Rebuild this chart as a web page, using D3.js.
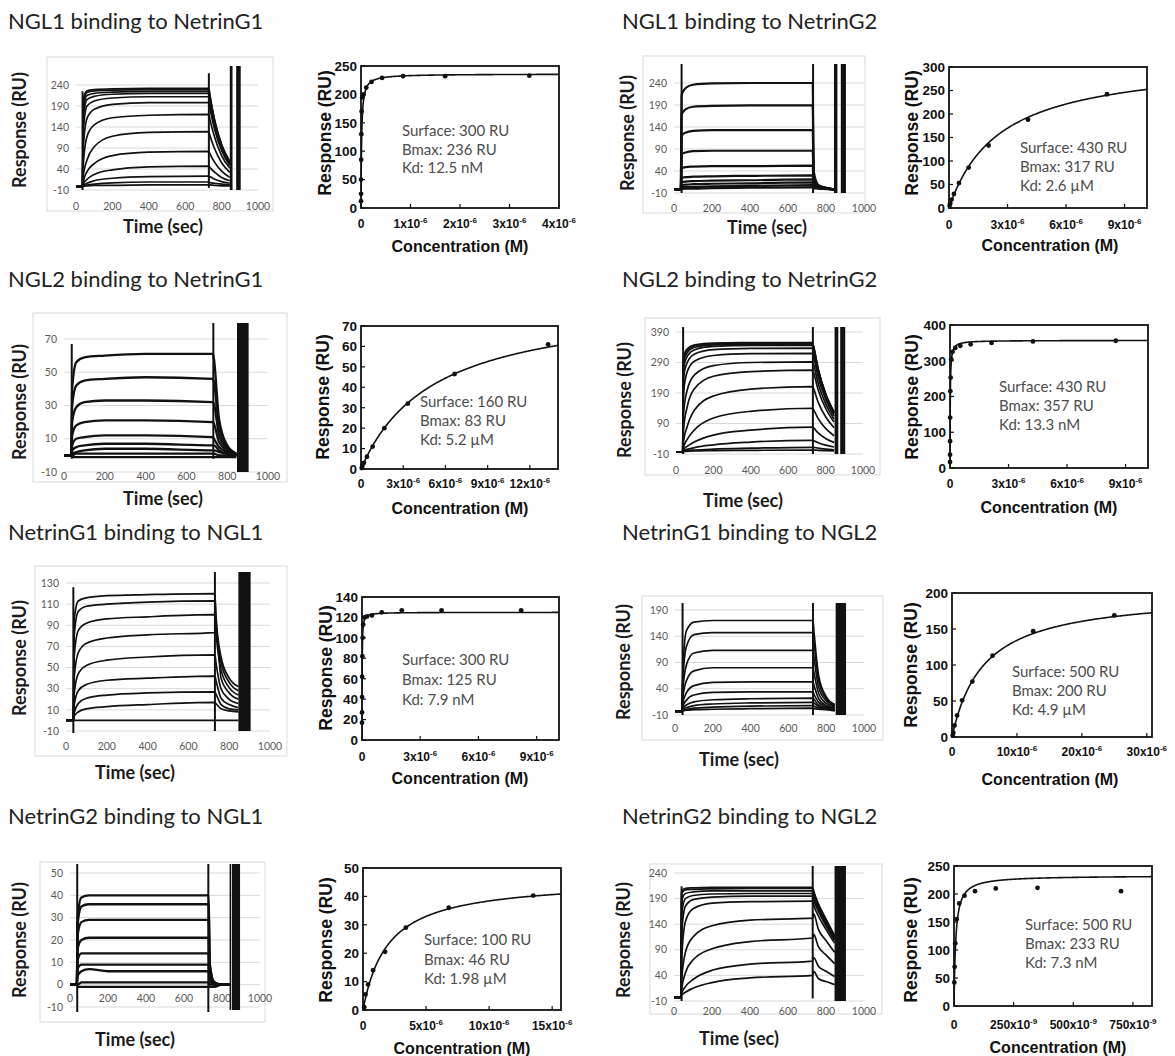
<!DOCTYPE html>
<html><head><meta charset="utf-8">
<script src="https://cdn.jsdelivr.net/npm/d3@7"></script>
<style>
html,body{margin:0;padding:0;background:#fff;}
svg{display:block;}
</style></head><body>
<svg id="fig" width="1175" height="1056"></svg>
<script>
// ---------- panel titles ----------
const panelTitles = [
  "NGL1 binding to NetrinG1", "NGL1 binding to NetrinG2",
  "NGL2 binding to NetrinG1", "NGL2 binding to NetrinG2",
  "NetrinG1 binding to NGL1", "NetrinG1 binding to NGL2",
  "NetrinG2 binding to NGL1", "NetrinG2 binding to NGL2"
];

// ---------- sensorgrams: response (RU) of each injection at these times (s) ----------
const sampleTimes = [0, 36, 40, 60, 100, 200, 400, 730, 735, 760, 800, 845];
const timeTicks = [0, 200, 400, 600, 800, 1000];

const tracesNGL1_NetrinG1 = [
  [-2,-2,205,226,229,231,232,232,218,160,98,58],
  [-2,-2,195,222,226,228,229,229,215,158,97,57],
  [-2,-2,180,215,220,223,225,225,211,155,95,55],
  [-2,-2,160,205,213,218,220,220,206,152,93,54],
  [-2,-2,130,190,202,209,212,212,199,147,90,52],
  [-2,-2,90,160,182,194,198,198,186,137,84,48],
  [-2,-2,50,117,145,162,168,170,160,118,72,42],
  [-2,-2,25,61,93,118,127,129,121,90,55,32],
  [-2,-2,10,33,53,72,80,82,77,57,35,20],
  [-2,-2,4,15,27,38,45,47,44,33,20,12],
  [-2,-2,1,6,12,18,22,23,22,16,10,6],
  [-2,-2,0,2,4,7,9,9,8,6,4,2],
  [-2,-2,-1,0,1,1,2,2,2,1,0,0]
];
const tracesNGL1_NetrinG2 = [
  [-2,-2,212,228,236,239,240,240,40,8,2,-2],
  [-2,-2,168,180,186,188,189,189,32,7,2,-2],
  [-2,-2,120,127,131,133,133,133,25,6,1,-2],
  [-2,-2,78,82,85,86,86,86,18,5,1,-2],
  [-2,-2,46,49,50,51,51,52,12,4,1,-2],
  [-2,-2,24,26,27,28,29,30,8,3,0,-2],
  [-2,-2,14,16,17,18,19,21,6,2,0,-2],
  [-2,-2,8,9,10,11,12,14,4,2,0,-2],
  [-2,-2,3,4,4,5,6,8,3,1,0,-2],
  [-3,-3,-1,0,0,1,2,3,1,0,-1,-2]
];
const tracesNGL2_NetrinG1 = [
  [0,0,40,56,59,60,61,61,58,22,6,1],
  [0,0,30,42,45,46,47,46,44,17,5,1],
  [0,0,20,29,32,33,33,32,31,12,4,1],
  [0,0,12,18,20,21,21,20,19,8,3,0],
  [0,0,6,10,11,12,12,11,10,5,2,0],
  [0,0,3,5,6,7,7,6,6,3,1,0],
  [0,0,1,2,3,4,4,3,3,2,1,0],
  [0,0,0,1,1,1,1,1,1,0,0,0],
  [0,0,-1,-1,-1,-1,-1,-1,-1,-1,-1,-1]
];
const tracesNGL2_NetrinG2 = [
  [-3,-3,305,335,348,354,355,355,345,270,188,128],
  [-3,-3,300,330,345,351,353,353,343,268,187,127],
  [-3,-3,290,322,340,348,350,350,340,266,186,126],
  [-3,-3,270,310,332,343,346,346,336,263,183,125],
  [-3,-3,240,290,318,332,336,337,327,256,179,121],
  [-3,-3,190,260,295,313,319,320,311,243,170,115],
  [-3,-3,120,200,250,280,290,292,284,222,155,105],
  [-3,-3,70,145,205,245,260,265,258,201,140,95],
  [-3,-3,30,80,135,180,203,211,205,160,112,76],
  [-3,-3,12,38,70,108,130,140,136,106,74,50],
  [-3,-3,5,15,30,52,68,78,76,59,41,28],
  [-3,-3,1,5,11,20,29,35,34,27,19,13],
  [-3,-3,-1,1,3,6,9,12,12,9,6,4],
  [-3,-3,-2,-1,0,1,2,3,3,2,1,0]
];
const tracesNetrinG1_NGL1 = [
  [0,0,95,113,116,118,119,120,100,60,40,32],
  [0,0,80,103,108,110,112,113,95,55,36,28],
  [0,0,60,85,92,96,98,100,85,48,31,24],
  [0,0,40,64,73,78,81,83,90,40,26,20],
  [0,0,25,44,52,57,60,62,55,30,20,16],
  [0,0,14,28,34,38,40,42,38,21,15,12],
  [0,0,7,16,21,24,26,27,25,15,11,10],
  [0,0,4,8,11,13,15,17,16,11,9,8],
  [0,0,0,0,0,0,0,0,0,0,0,0]
];
const tracesNetrinG1_NGL2 = [
  [-3,-3,60,150,167,170,170,170,150,65,25,10],
  [-3,-3,45,120,143,147,147,147,130,55,21,9],
  [-3,-3,30,85,108,113,113,113,100,43,17,7],
  [-3,-3,18,55,74,80,80,80,71,31,12,5],
  [-3,-3,10,32,46,52,53,53,47,21,8,3],
  [-3,-3,5,18,28,33,34,34,30,14,6,2],
  [-3,-3,2,9,15,19,21,22,20,9,4,1],
  [-3,-3,0,4,8,11,13,14,13,6,2,0],
  [-3,-3,-1,1,3,5,7,8,7,3,1,-1],
  [-3,-3,-2,-1,0,1,2,3,2,1,0,-2]
];
const tracesNetrinG2_NGL1 = [
  [0,0,30,39,40,40,40,40,10,1,0,0],
  [0,0,27,35,36,36,36,36,9,1,0,0],
  [0,0,22,28,29,29,29,29,7,1,0,0],
  [0,0,16,20,21,21,21,21,5,1,0,0],
  [0,0,11,14,14,14,14,14,4,0,0,0],
  [0,0,7,9,9,9,9,9,3,0,0,0],
  [0,0,4,6,7,6,6,6,2,0,0,0],
  [0,0,0,1,1,1,1,1,0,0,0,0],
  [0,0,-1,-1,-1,-1,-1,-1,-1,-1,0,0]
];
const tracesNetrinG2_NGL2 = [
  [-3,-3,205,210,211,212,212,212,205,180,150,118],
  [-3,-3,200,207,208,209,210,210,203,178,148,117],
  [-3,-3,185,200,203,205,205,205,198,173,145,114],
  [-3,-3,160,190,196,199,200,200,193,169,141,111],
  [-3,-3,120,175,188,193,195,195,188,165,137,108],
  [-3,-3,70,145,170,181,184,185,178,156,130,103],
  [-3,-3,30,85,115,137,148,152,160,130,108,85],
  [-3,-3,12,45,70,92,106,113,120,96,80,63],
  [-3,-3,4,18,32,50,62,68,75,58,48,38],
  [-3,-3,1,7,15,26,35,40,48,34,28,22]
];

// bulk-shift spikes at injection start / end: [time, from RU, to RU]
const spikesNGL1_NetrinG1 = [[36,-10,225],[730,-5,268]];
const spikesNGL1_NetrinG2 = [[40,-10,290],[732,-10,290]];
const spikesNGL2_NetrinG1 = [[38,-2,67],[732,-2,85]];
const spikesNGL2_NetrinG2 = [[38,-10,410],[732,-10,410]];
const spikesNetrinG1_NGL1 = [[36,-12,126],[730,-10,145]];
const spikesNetrinG1_NGL2 = [[40,-10,210],[730,-10,210]];
const spikesNetrinG2_NGL1 = [[38,-14,60],[728,-14,60]];
const spikesNetrinG2_NGL2 = [[40,-10,214],[730,-5,255]];

// regeneration pulses: [start s, end s]
const regenNGL1_NetrinG1 = [[845,860],[880,905]];
const regenNGL1_NetrinG2 = [[842,860],[878,905]];
const regenNGL2_NetrinG1 = [[848,905]];
const regenNGL2_NetrinG2 = [[848,868],[878,905]];
const regenNetrinG1_NGL1 = [[845,905]];
const regenNetrinG1_NGL2 = [[850,905]];
const regenNetrinG2_NGL1 = [[840,848],[852,895]];
const regenNetrinG2_NGL2 = [[845,905]];

// sensorgram response tick labels
const sgTicksNGL1_NetrinG1 = [-10,40,90,140,190,240];
const sgTicksNGL1_NetrinG2 = [-10,40,90,140,190,240];
const sgTicksNGL2_NetrinG1 = [-10,10,30,50,70];
const sgTicksNGL2_NetrinG2 = [-10,90,190,290,390];
const sgTicksNetrinG1_NGL1 = [-10,10,30,50,70,90,110,130];
const sgTicksNetrinG1_NGL2 = [-10,40,90,140,190];
const sgTicksNetrinG2_NGL1 = [-10,0,10,20,30,40,50];
const sgTicksNetrinG2_NGL2 = [-10,40,90,140,190,240];

// ---------- steady-state binding: concentration (M) vs response (RU) ----------
const concNGL1_NetrinG1 = [3.4e-6,1.7e-6,0.85e-6,0.425e-6,0.2125e-6,0.106e-6,0.053e-6,0.027e-6,0.013e-6,0.0066e-6,0.0033e-6,0.0017e-6,0.0008e-6,0.0004e-6];
const respNGL1_NetrinG1 = [233,232,232,229,222,212,200,195,170,130,85,50,25,12];
const concNGL1_NetrinG2 = [8.1e-6,4.05e-6,2.03e-6,1.01e-6,0.51e-6,0.25e-6,0.13e-6,0.063e-6,0.032e-6];
const respNGL1_NetrinG2 = [242,188,133,86,53,30,18,10,5];
const concNGL2_NetrinG1 = [13.3e-6,6.65e-6,3.33e-6,1.66e-6,0.83e-6,0.42e-6,0.21e-6,0.1e-6,0.05e-6];
const respNGL2_NetrinG1 = [61,46.5,32,20,11,6,3,1.5,0.5];
const concNGL2_NetrinG2 = [8.5e-6,4.25e-6,2.13e-6,1.06e-6,0.53e-6,0.27e-6,0.13e-6,0.066e-6,0.033e-6,0.017e-6,0.008e-6,0.004e-6,0.002e-6,0.001e-6];
const respNGL2_NetrinG2 = [356,354,350,346,342,336,325,304,253,215,141,75,37,17];
const concNetrinG1_NGL1 = [8.2e-6,4.1e-6,2.05e-6,1.02e-6,0.51e-6,0.26e-6,0.13e-6,0.064e-6,0.032e-6,0.016e-6,0.008e-6,0.004e-6,0.002e-6,0.001e-6];
const respNetrinG1_NGL1 = [127,127,127,125,122,121,120,113,100,82,62,42,27,17];
const concNetrinG1_NGL2 = [25e-6,12.5e-6,6.25e-6,3.13e-6,1.56e-6,0.78e-6,0.39e-6,0.2e-6,0.1e-6];
const respNetrinG1_NGL2 = [169,147,113,77,51,30,16,6,2];
const concNetrinG2_NGL1 = [13.5e-6,6.8e-6,3.4e-6,1.75e-6,0.8e-6,0.4e-6,0.2e-6,0.1e-6];
const respNetrinG2_NGL1 = [40.3,36,29,20.5,14,9,5.5,1];
const concNetrinG2_NGL2 = [700e-9,350e-9,175e-9,88e-9,44e-9,22e-9,11e-9,5.5e-9,2.7e-9,1.4e-9];
const respNetrinG2_NGL2 = [205,211,210,205,197,183,155,112,70,42];

// fitted 1:1 parameters and immobilisation levels
const surfaceRU = [300, 430, 160, 430, 300, 500, 100, 500];
const bmaxRU = [236, 317, 83, 357, 125, 200, 46, 233];
const kdMolar = [12.5e-9, 2.6e-6, 5.2e-6, 13.3e-9, 7.9e-9, 4.9e-6, 1.98e-6, 7.3e-9];
const kdText = ["12.5 nM", "2.6 µM", "5.2 µM", "13.3 nM", "7.9 nM", "4.9 µM", "1.98 µM", "7.3 nM"];

// binding-plot axes
const bdYTicksNGL1_NetrinG1 = [0,50,100,150,200,250];
const bdYTicksNGL1_NetrinG2 = [0,50,100,150,200,250,300];
const bdYTicksNGL2_NetrinG1 = [0,10,20,30,40,50,60,70];
const bdYTicksNGL2_NetrinG2 = [0,100,200,300,400];
const bdYTicksNetrinG1_NGL1 = [0,20,40,60,80,100,120,140];
const bdYTicksNetrinG1_NGL2 = [0,50,100,150,200];
const bdYTicksNetrinG2_NGL1 = [0,10,20,30,40,50];
const bdYTicksNetrinG2_NGL2 = [0,50,100,150,200,250];

const bdXTicksNGL1_NetrinG1 = [0,1e-6,2e-6,3e-6,4e-6];
const bdXLabelsNGL1_NetrinG1 = [["0"],["1","-6"],["2","-6"],["3","-6"],["4","-6"]];
const bdXTicksNGL1_NetrinG2 = [0,3e-6,6e-6,9e-6];
const bdXLabelsNGL1_NetrinG2 = [["0"],["3","-6"],["6","-6"],["9","-6"]];
const bdXTicksNGL2_NetrinG1 = [0,3e-6,6e-6,9e-6,12e-6];
const bdXLabelsNGL2_NetrinG1 = [["0"],["3","-6"],["6","-6"],["9","-6"],["12","-6"]];
const bdXTicksNGL2_NetrinG2 = [0,3e-6,6e-6,9e-6];
const bdXLabelsNGL2_NetrinG2 = [["0"],["3","-6"],["6","-6"],["9","-6"]];
const bdXTicksNetrinG1_NGL1 = [0,3e-6,6e-6,9e-6];
const bdXLabelsNetrinG1_NGL1 = [["0"],["3","-6"],["6","-6"],["9","-6"]];
const bdXTicksNetrinG1_NGL2 = [0,10e-6,20e-6,30e-6];
const bdXLabelsNetrinG1_NGL2 = [["0"],["10","-6"],["20","-6"],["30","-6"]];
const bdXTicksNetrinG2_NGL1 = [0,5e-6,10e-6,15e-6];
const bdXLabelsNetrinG2_NGL1 = [["0"],["5","-6"],["10","-6"],["15","-6"]];
const bdXTicksNetrinG2_NGL2 = [0,250e-9,500e-9,750e-9];
const bdXLabelsNetrinG2_NGL2 = [["0"],["250","-9"],["500","-9"],["750","-9"]];

// ---------- assemble per-panel series ----------
const allTraces = [tracesNGL1_NetrinG1, tracesNGL1_NetrinG2, tracesNGL2_NetrinG1, tracesNGL2_NetrinG2,
  tracesNetrinG1_NGL1, tracesNetrinG1_NGL2, tracesNetrinG2_NGL1, tracesNetrinG2_NGL2];
const allSpikes = [spikesNGL1_NetrinG1, spikesNGL1_NetrinG2, spikesNGL2_NetrinG1, spikesNGL2_NetrinG2,
  spikesNetrinG1_NGL1, spikesNetrinG1_NGL2, spikesNetrinG2_NGL1, spikesNetrinG2_NGL2];
const allRegen = [regenNGL1_NetrinG1, regenNGL1_NetrinG2, regenNGL2_NetrinG1, regenNGL2_NetrinG2,
  regenNetrinG1_NGL1, regenNetrinG1_NGL2, regenNetrinG2_NGL1, regenNetrinG2_NGL2];
const allSgTicks = [sgTicksNGL1_NetrinG1, sgTicksNGL1_NetrinG2, sgTicksNGL2_NetrinG1, sgTicksNGL2_NetrinG2,
  sgTicksNetrinG1_NGL1, sgTicksNetrinG1_NGL2, sgTicksNetrinG2_NGL1, sgTicksNetrinG2_NGL2];
const allConc = [concNGL1_NetrinG1, concNGL1_NetrinG2, concNGL2_NetrinG1, concNGL2_NetrinG2,
  concNetrinG1_NGL1, concNetrinG1_NGL2, concNetrinG2_NGL1, concNetrinG2_NGL2];
const allResp = [respNGL1_NetrinG1, respNGL1_NetrinG2, respNGL2_NetrinG1, respNGL2_NetrinG2,
  respNetrinG1_NGL1, respNetrinG1_NGL2, respNetrinG2_NGL1, respNetrinG2_NGL2];
const allBdY = [bdYTicksNGL1_NetrinG1, bdYTicksNGL1_NetrinG2, bdYTicksNGL2_NetrinG1, bdYTicksNGL2_NetrinG2,
  bdYTicksNetrinG1_NGL1, bdYTicksNetrinG1_NGL2, bdYTicksNetrinG2_NGL1, bdYTicksNetrinG2_NGL2];
const allBdX = [bdXTicksNGL1_NetrinG1, bdXTicksNGL1_NetrinG2, bdXTicksNGL2_NetrinG1, bdXTicksNGL2_NetrinG2,
  bdXTicksNetrinG1_NGL1, bdXTicksNetrinG1_NGL2, bdXTicksNetrinG2_NGL1, bdXTicksNetrinG2_NGL2];
const allBdXL = [bdXLabelsNGL1_NetrinG1, bdXLabelsNGL1_NetrinG2, bdXLabelsNGL2_NetrinG1, bdXLabelsNGL2_NetrinG2,
  bdXLabelsNetrinG1_NGL1, bdXLabelsNetrinG1_NGL2, bdXLabelsNetrinG2_NGL1, bdXLabelsNetrinG2_NGL2];

// ---------- page geometry (pixels) ----------
const layout = [
  { title:[8,29],
    sg:{box:[47,57,226,154], x:[76,258], y:[-10,190,240,85], clip:[66,192], xty:206, yl:[20,130], xl:[163,233], sw:1.7},
    bd:{box:[361,66,198,142], xmax:4e-6, ymax:250, ann:[402,136,18.5], yl:[325,133], xl:[460,252], xty:228}},
  { title:[622,29],
    sg:{box:[643,56,222,157], x:[674,864], y:[-10,193,240,83], clip:[64,195], xty:208, yl:[628,133], xl:[767,234], sw:2.2},
    bd:{box:[949,67,198,141], xmax:10.15e-6, ymax:300, ann:[1020,153,19], yl:[912,133], xl:[1050,251], xty:229}},
  { title:[8,287],
    sg:{box:[33,313,254,169], x:[64,268], y:[-10,472,70,339], clip:[323,474], xty:476, yl:[20,402], xl:[163,505], sw:2.3},
    bd:{box:[361,326,197,143], xmax:14e-6, ymax:70, ann:[420,407,19], yl:[323,397], xl:[460,514], xty:488}},
  { title:[622,287],
    sg:{box:[645,318,235,157], x:[676,863], y:[-10,454,390,332], clip:[327,456], xty:470, yl:[625,400], xl:[743,507], sw:1.7},
    bd:{box:[950,325,198,143], xmax:10.15e-6, ymax:400, ann:[999,392,19], yl:[912,397], xl:[1049,513], xty:488}},
  { title:[8,540],
    sg:{box:[35,566,252,190], x:[66,270], y:[-10,731,130,583], clip:[572,733], xty:746, yl:[20,658], xl:[135,779], sw:1.7},
    bd:{box:[362,597,197,143], xmax:10.15e-6, ymax:140, ann:[402,665,20], yl:[326,668], xl:[460,784], xty:761}},
  { title:[622,540],
    sg:{box:[642,596,241,144], x:[675,864], y:[-10,715,190,610], clip:[603,717], xty:728, yl:[624,662], xl:[739,766], sw:1.7},
    bd:{box:[952,593,200,144], xmax:30.8e-6, ymax:200, ann:[1012,677,19], yl:[911,665], xl:[1050,785], xty:756}},
  { title:[8,824],
    sg:{box:[40,862,225,160], x:[70,260], y:[-10,1007,50,873], clip:[864,1012], xty:998, yl:[20,940], xl:[135,1046], sw:2.3},
    bd:{box:[363,868,198,142], xmax:15.7e-6, ymax:50, ann:[424,945,19.5], yl:[326,940], xl:[462,1054], xty:1030}},
  { title:[622,824],
    sg:{box:[650,864,232,150], x:[674,864], y:[-10,1001,240,873], clip:[866,1003], xty:1011, yl:[624,940], xl:[739,1045], sw:1.7},
    bd:{box:[954,866,198,140], xmax:830e-9, ymax:250, ann:[1025,930,19], yl:[911,940], xl:[1058,1053], xty:1029}}
];

const CAL = "Lato, 'Open Sans', sans-serif";
const ARIAL = "'Liberation Sans', Arial, sans-serif";

const fig = d3.select("#fig");
const defs = fig.append("defs");
fig.append("rect").attr("width",1175).attr("height",1056).attr("fill","#fff");

function drawSensorgram(g, i) {
  const L = layout[i].sg;
  const [bx, by, bw, bh] = L.box;
  g.append("rect").attr("x", bx).attr("y", by).attr("width", bw).attr("height", bh)
    .attr("fill", "#fff").attr("stroke", "#d9d9d9").attr("stroke-width", 1);
  const x = d3.scaleLinear().domain([0, 1000]).range(L.x);
  const y = d3.scaleLinear().domain([L.y[0], L.y[2]]).range([L.y[1], L.y[3]]);
  const ticks = allSgTicks[i];

  g.selectAll("line.grid").data(ticks).join("line").attr("class", "grid")
    .attr("x1", L.x[0]).attr("x2", L.x[1])
    .attr("y1", d => y(d)).attr("y2", d => y(d))
    .attr("stroke", "#d9d9d9").attr("stroke-width", 1);
  g.selectAll("text.yt").data(ticks).join("text").attr("class", "yt")
    .attr("x", L.x[0] - 7).attr("y", d => y(d)).attr("dy", "0.35em")
    .attr("text-anchor", "end").attr("font-family", CAL).attr("font-size", 10.5)
    .attr("fill", "#595959").text(d => d);
  g.selectAll("text.xt").data(timeTicks).join("text").attr("class", "xt")
    .attr("x", d => x(d)).attr("y", L.xty).attr("dy", "0.35em")
    .attr("text-anchor", "middle").attr("font-family", CAL).attr("font-size", 10.5)
    .attr("fill", "#595959").text(d => d);

  const cid = "sgclip" + i;
  defs.append("clipPath").attr("id", cid).append("rect")
    .attr("x", L.x[0] - 2).attr("y", L.clip[0])
    .attr("width", L.x[1] - L.x[0] + 4).attr("height", L.clip[1] - L.clip[0]);
  const pg = g.append("g").attr("clip-path", `url(#${cid})`);

  const line = d3.line().x((d, k) => x(sampleTimes[k])).y(d => y(d)).curve(d3.curveMonotoneX);
  pg.selectAll("path.trace").data(allTraces[i]).join("path").attr("class", "trace")
    .attr("d", line).attr("fill", "none").attr("stroke", "#111")
    .attr("stroke-width", L.sw).attr("stroke-linejoin", "round");

  pg.selectAll("line.spike").data(allSpikes[i]).join("line").attr("class", "spike")
    .attr("x1", d => x(d[0])).attr("x2", d => x(d[0]))
    .attr("y1", d => y(d[1])).attr("y2", d => y(d[2]))
    .attr("stroke", "#111").attr("stroke-width", 2);

  pg.selectAll("rect.regen").data(allRegen[i]).join("rect").attr("class", "regen")
    .attr("x", d => x(d[0])).attr("width", d => x(d[1]) - x(d[0]))
    .attr("y", L.clip[0]).attr("height", L.clip[1] - L.clip[0] - 2)
    .attr("fill", "#111");

  g.append("text").attr("transform", `translate(${L.yl[0]},${L.yl[1]}) rotate(-90)`)
    .attr("text-anchor", "middle").attr("dy", "0.35em")
    .attr("font-family", CAL).attr("font-weight", 700).attr("font-size", 18)
    .attr("fill", "#1a1a1a").text("Response (RU)");
  g.append("text").attr("x", L.xl[0]).attr("y", L.xl[1])
    .attr("text-anchor", "middle")
    .attr("font-family", CAL).attr("font-weight", 700).attr("font-size", 18)
    .attr("fill", "#1a1a1a").text("Time (sec)");
}

function drawBinding(g, i) {
  const L = layout[i].bd;
  const [bx, by, bw, bh] = L.box;
  const x = d3.scaleLinear().domain([0, L.xmax]).range([bx, bx + bw]);
  const y = d3.scaleLinear().domain([0, L.ymax]).range([by + bh, by]);
  const bmax = bmaxRU[i], kd = kdMolar[i];

  // 1:1 Langmuir isotherm from the fitted Bmax and Kd
  const fitConc = d3.range(0, 601).map(k => L.xmax * Math.pow(k / 600, 3));
  const fit = d3.line().x(c => x(c)).y(c => y(bmax * c / (kd + c)));
  const cid = "bdclip" + i;
  defs.append("clipPath").attr("id", cid).append("rect")
    .attr("x", bx).attr("y", by).attr("width", bw).attr("height", bh);
  const pg = g.append("g").attr("clip-path", `url(#${cid})`);
  pg.append("path").attr("d", fit(fitConc)).attr("fill", "none")
    .attr("stroke", "#111").attr("stroke-width", 1.6);
  const pts = allConc[i].map((c, k) => [c, allResp[i][k]]);
  g.selectAll("circle.pt").data(pts).join("circle").attr("class", "pt")
    .attr("cx", d => x(d[0])).attr("cy", d => y(d[1])).attr("r", 2.4).attr("fill", "#111");

  g.append("rect").attr("x", bx).attr("y", by).attr("width", bw).attr("height", bh)
    .attr("fill", "none").attr("stroke", "#111").attr("stroke-width", 1.8);

  const yt = allBdY[i];
  g.selectAll("line.ytk").data(yt).join("line").attr("class", "ytk")
    .attr("x1", bx).attr("x2", bx + 4).attr("y1", d => y(d)).attr("y2", d => y(d))
    .attr("stroke", "#111").attr("stroke-width", 1.2);
  g.selectAll("text.ytl").data(yt).join("text").attr("class", "ytl")
    .attr("x", bx - 4).attr("y", d => y(d)).attr("dy", "0.36em").attr("text-anchor", "end")
    .attr("font-family", ARIAL).attr("font-weight", 700).attr("font-size", 13.5)
    .attr("fill", "#111").text(d => d);

  const xt = allBdX[i], xl = allBdXL[i];
  g.selectAll("line.xtk").data(xt).join("line").attr("class", "xtk")
    .attr("x1", d => x(d)).attr("x2", d => x(d)).attr("y1", by + bh).attr("y2", by + bh - 4)
    .attr("stroke", "#111").attr("stroke-width", 1.2);
  xt.forEach((v, k) => {
    const lab = xl[k];
    const t = g.append("text").attr("x", x(v)).attr("y", L.xty).attr("text-anchor", "middle")
      .attr("font-family", ARIAL).attr("font-weight", 700).attr("font-size", 12)
      .attr("fill", "#111");
    if (lab.length > 1) {
      t.append("tspan").text(lab[0] + "x10");
      t.append("tspan").attr("font-size", 8).attr("dy", -5).text(lab[1]);
    } else {
      t.text(lab[0]);
    }
  });

  const ann = [`Surface: ${surfaceRU[i]} RU`, `Bmax: ${bmaxRU[i]} RU`, `Kd: ${kdText[i]}`];
  g.selectAll("text.ann").data(ann).join("text").attr("class", "ann")
    .attr("x", L.ann[0]).attr("y", (d, k) => L.ann[1] + k * L.ann[2])
    .attr("font-family", CAL).attr("font-size", 15).attr("fill", "#4d4d4d").text(d => d);

  g.append("text").attr("transform", `translate(${L.yl[0]},${L.yl[1]}) rotate(-90)`)
    .attr("text-anchor", "middle").attr("dy", "0.35em")
    .attr("font-family", ARIAL).attr("font-weight", 700).attr("font-size", 17.5)
    .attr("fill", "#111").text("Response (RU)");
  g.append("text").attr("x", L.xl[0]).attr("y", L.xl[1]).attr("text-anchor", "middle")
    .attr("font-family", ARIAL).attr("font-weight", 700).attr("font-size", 16)
    .attr("fill", "#111").text("Concentration (M)");
}

panelTitles.forEach((title, i) => {
  const g = fig.append("g").attr("class", "panel");
  g.append("text").attr("x", layout[i].title[0]).attr("y", layout[i].title[1])
    .attr("font-family", CAL).attr("font-size", 22).attr("fill", "#222").text(title);
  drawSensorgram(g, i);
  drawBinding(g, i);
});
</script></body></html>
